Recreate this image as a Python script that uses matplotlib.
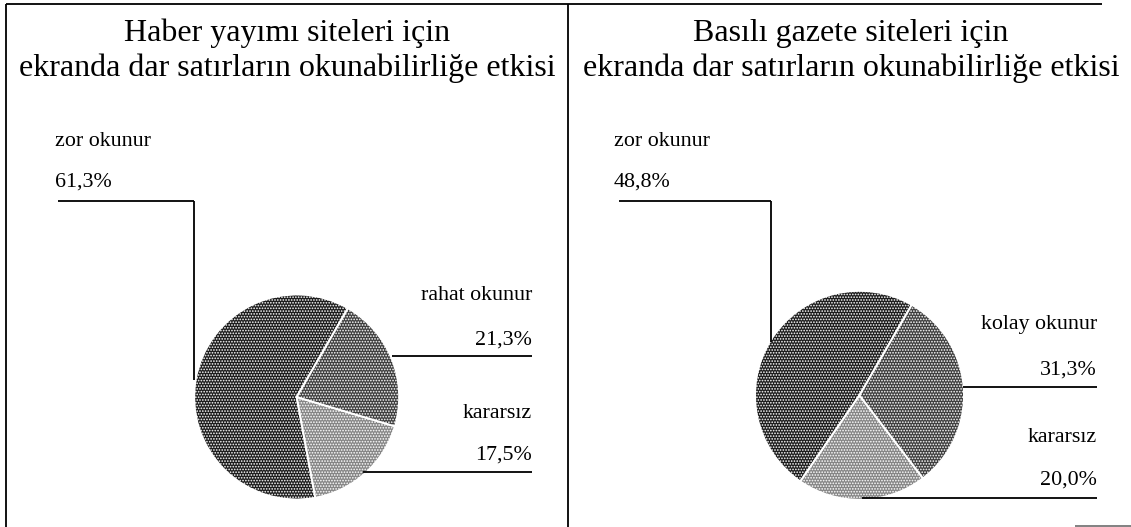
import matplotlib
matplotlib.use("Agg")
import matplotlib.pyplot as plt

W, H = 1131, 527

# Survey results (percent)
left_title = ["Haber yayımı siteleri için",
              "ekranda dar satırların okunabilirliğe etkisi"]
left_labels = ["zor okunur", "kararsız", "rahat okunur"]
left_values = [61.3, 17.5, 21.3]
left_texts = ["61,3%", "17,5%", "21,3%"]

right_title = ["Basılı gazete siteleri için",
               "ekranda dar satırların okunabilirliğe etkisi"]
right_labels = ["zor okunur", "kararsız", "kolay okunur"]
right_values = [48.8, 20.0, 31.3]
right_texts = ["48,8%", "20,0%", "31,3%"]

slice_colors = ["#1c1c1c", "#858585", "#3e3e3e"]

plt.rcParams["font.family"] = ["Liberation Serif", "DejaVu Serif"]
plt.rcParams["hatch.linewidth"] = 0.8

fig = plt.figure(figsize=(W / 100, H / 100), dpi=100)
ax = fig.add_axes([0, 0, 1, 1])


def py(y):
    """Convert a top-down pixel row to the axes' bottom-up coordinate."""
    return H - y


def line(xs, ys, **kw):
    kw.setdefault("color", "black")
    kw.setdefault("lw", 1.3)
    ax.plot(xs, [py(v) for v in ys], solid_capstyle="butt", **kw)


# panel frame
line([6, 1102], [4, 4])
line([6, 6], [4, 527])
line([568, 568], [4, 527])
line([1075, 1131], [526, 526], color="#777777")

label_fs = 15.8
title_fs = 23


def panel(cx, cy, r, values, labels, texts, title, title_x, layout):
    wedges, _ = ax.pie(values, colors=slice_colors, startangle=60,
                       counterclock=True, center=(cx, py(cy)), radius=r,
                       frame=True,
                       wedgeprops=dict(edgecolor="white", linewidth=1.4))
    # stippled fill
    for w in wedges:
        w.set_hatch("......")

    ax.text(title_x, py(33), title[0], ha="center", va="center", fontsize=title_fs)
    ax.text(title_x, py(68), title[1], ha="center", va="center", fontsize=title_fs)

    # dominant slice: label at upper left with an elbow connector
    lx, ty, vy, hy, hx1, vx, vy2 = layout["main"]
    ax.text(lx, py(ty), labels[0], ha="left", va="center", fontsize=label_fs)
    ax.text(lx, py(vy), texts[0], ha="left", va="center", fontsize=label_fs)
    line([hx1, vx], [hy, hy])
    line([vx, vx], [hy, vy2])

    # smaller slices: right-aligned labels over a horizontal rule
    for idx in (2, 1):
        rx, ty, vy, hy, x0, x1 = layout[idx]
        ax.text(rx, py(ty), labels[idx], ha="right", va="center", fontsize=label_fs)
        ax.text(rx, py(vy), texts[idx], ha="right", va="center", fontsize=label_fs)
        line([x0, x1], [hy, hy])


panel(296.7, 397, 102.5, left_values, left_labels, left_texts, left_title, 287,
      {"main": (55, 142, 182, 201, 58, 194, 380),
       2: (532, 296, 340, 356, 392, 532),
       1: (532, 413, 455, 472, 363, 532)})

panel(859.5, 395.3, 104.5, right_values, right_labels, right_texts, right_title, 851,
      {"main": (614, 142, 182, 201, 619, 770.5, 342),
       2: (1097, 325, 370, 387, 963, 1097),
       1: (1097, 437, 480, 498, 862, 1097)})

ax.set_xlim(0, W)
ax.set_ylim(0, H)
ax.set_aspect("auto")
ax.axis("off")

fig.savefig("out.png", dpi=100)
